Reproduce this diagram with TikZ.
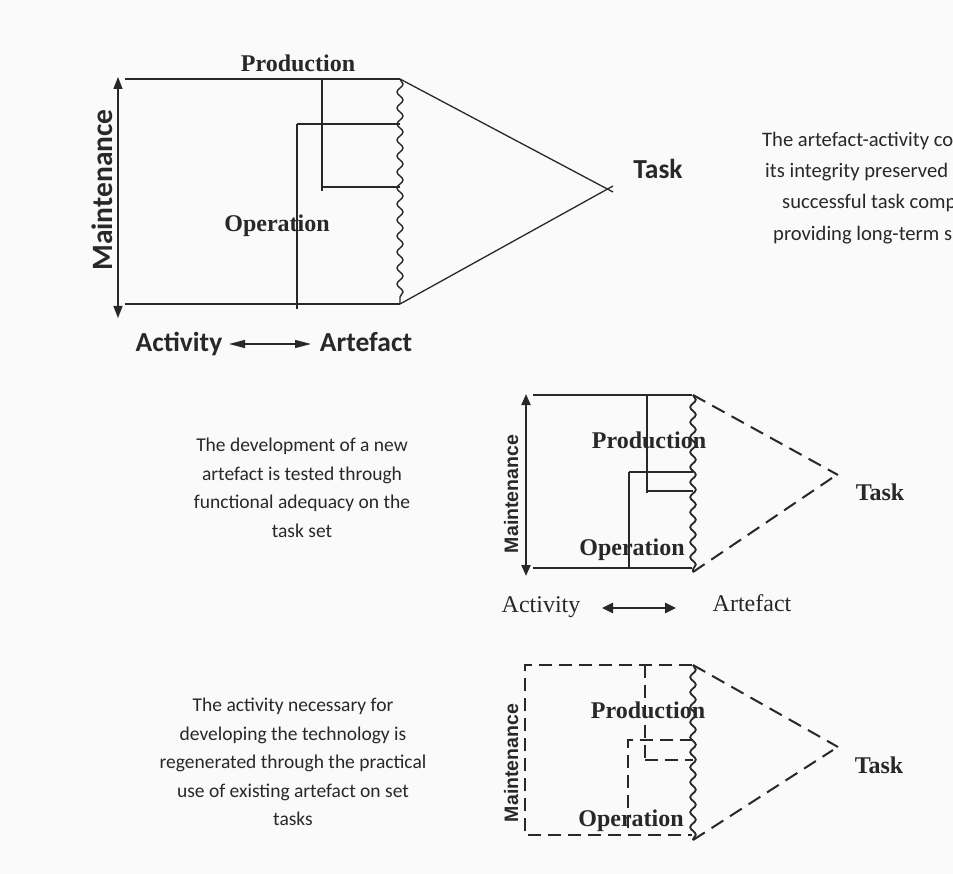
\documentclass[tikz,border=0pt]{standalone}
\usepackage{fontspec}
\setmainfont{Liberation Serif}
\newfontfamily\calib{Carlito}
\newfontfamily\arl{Liberation Sans}
\usetikzlibrary{decorations.pathmorphing,arrows.meta}
\definecolor{ink}{RGB}{40,40,40}
\definecolor{bgc}{RGB}{250,250,250}
\begin{document}
\begin{tikzpicture}[x=1pt,y=-1pt,
  thin1/.style={draw=ink,line width=1.3pt},
  thick1/.style={draw=ink,line width=2pt},
  dash1/.style={draw=ink,line width=2pt,dash pattern=on 13pt off 7pt},
  dash2/.style={draw=ink,line width=2pt,dash pattern=on 14pt off 8pt},
  wavy/.style={draw=ink,line width=1.4pt,decorate,decoration={snake,segment length=16pt,amplitude=3pt}},
  lbl/.style={inner sep=0pt,text=ink},
  serb/.style={lbl,font=\fontsize{24}{28}\selectfont\bfseries},
  serr/.style={lbl,font=\fontsize{24}{28}\selectfont},
  calb/.style={lbl,font=\calib\fontsize{27.5}{32}\selectfont\bfseries},
  para/.style={lbl,align=center,font=\calib\fontsize{19.5}{28.5}\selectfont},
  paraR/.style={lbl,font=\calib\fontsize{20.6}{31}\selectfont},
  mnt/.style={lbl,rotate=90,anchor=base,font=\arl\fontsize{19.5}{22}\selectfont\bfseries}
]
\fill[bgc] (0,0) rectangle (953,874);
\useasboundingbox (0,0) rectangle (953,874);
\begin{scope}
\clip (0,0) rectangle (953,874);

% ================= TOP DIAGRAM =================
\coordinate (A1) at (125,79);  \coordinate (A2) at (400,79);
\coordinate (A3) at (125,304); \coordinate (A4) at (400,304);
\coordinate (AT1) at (613,192); \coordinate (AT2) at (613,186);
\draw[thin1] (A1) -- (A2);
\draw[thin1] (A3) -- (A4);
\draw[wavy] (A2) -- (A4);
\draw[thin1] (A2) -- (AT1);
\draw[thin1] (A4) -- (AT2);
% production bracket
\coordinate (AP1) at (322,79); \coordinate (AP2) at (322,191); \coordinate (AP3) at (400,187);
\draw[thin1] (AP1) -- (AP2);
\draw[thin1] (AP1 |- AP3) -- (AP3);
% operation bracket
\coordinate (AO1) at (297,124); \coordinate (AO2) at (297,309); \coordinate (AO3) at (400,124);
\draw[thin1] (AO1) -- (AO3);
\draw[thin1] (AO1) -- (AO2);
% maintenance arrow
\coordinate (AM1) at (118,77); \coordinate (AM2) at (118,318);
\draw[thin1,{Triangle[length=12pt,width=9pt]}-{Triangle[length=12pt,width=9pt]}] (AM1) -- (AM2);
\node[lbl,rotate=90,anchor=base,font=\calib\fontsize{29.5}{33}\selectfont\bfseries] (amaint) at (112,190) {Maintenance};
\node[serb,anchor=base] (aprod) at (298,72) {Production};
\node[serb,anchor=base] (aoper) at (277,232) {Operation};
\node[calb,anchor=base] (atask) at (658,179) {Task};
\node[calb,anchor=base] (aact) at (179,352) {Activity};
\node[calb,anchor=base] (aart) at (366,352) {Artefact};
\coordinate (AA1) at (229,344); \coordinate (AA2) at (311,344);
\draw[draw=ink,line width=1.4pt,{Triangle[length=16pt,width=8pt]}-{Triangle[length=16pt,width=8pt]}] (AA1) -- (AA2);

% top right text
\node[paraR,anchor=base west] (r1) at (762,147) {The artefact-activity co};
\node[paraR,anchor=base west] (r2) at (765,178) {its integrity preserved};
\node[paraR,anchor=base west] (r3) at (782,209) {successful task comp};
\node[paraR,anchor=base west] (r4) at (773,241) {providing long-term s};

% ================= MIDDLE DIAGRAM =================
\coordinate (B1) at (533,395); \coordinate (B2) at (692,395);
\coordinate (B3) at (533,568); \coordinate (B4) at (692,568);
\coordinate (BW1) at (693,395); \coordinate (BW2) at (693,572);
\coordinate (BT1) at (838,475); \coordinate (BT2) at (832,478);
\draw[thick1] (B1) -- (B2);
\draw[thick1] (B3) -- (B4);
\draw[wavy,line width=1.8pt,decoration={snake,segment length=15pt,amplitude=2.8pt}] (BW1) -- (BW2);
\draw[dash2] (BW1) -- (BT1);
\draw[dash2] (BW2) -- (BT2);
\coordinate (BP1) at (647,395); \coordinate (BP2) at (647,493); \coordinate (BP3) at (693,491);
\draw[thick1] (BP1) -- (BP2);
\draw[thick1] (BP1 |- BP3) -- (BP3);
\coordinate (BO1) at (629,472); \coordinate (BO2) at (629,568); \coordinate (BO3) at (693,472);
\draw[thick1] (BO1) -- (BO3);
\draw[thick1] (BO1) -- (BO2);
\coordinate (BM1) at (526,394); \coordinate (BM2) at (526,576);
\draw[thick1,{Triangle[length=11pt,width=9pt]}-{Triangle[length=11pt,width=9pt]}] (BM1) -- (BM2);
\node[mnt] (bmaint) at (518,494) {Maintenance};
\node[serb,anchor=base] (bprod) at (649,448) {Production};
\node[serb,anchor=base] (boper) at (632,555) {Operation};
\node[serb,anchor=base] (btask) at (880,500) {Task};
\node[serr,anchor=base] (bact) at (541,612) {Activity};
\node[serr,anchor=base] (bart) at (752,611) {Artefact};
\coordinate (BA1) at (602,608); \coordinate (BA2) at (676,608);
\draw[draw=ink,line width=2.5pt,{Triangle[length=11pt,width=10pt]}-{Triangle[length=11pt,width=10pt]}] (BA1) -- (BA2);
\node[para] (btext) at (302,488) {The development of a new\\artefact is tested through\\functional adequacy on the\\task set};

% ================= BOTTOM DIAGRAM =================
\coordinate (C1) at (525,665); \coordinate (C2) at (692,665);
\coordinate (C3) at (525,835); \coordinate (C4) at (692,835);
\coordinate (CW1) at (693,665); \coordinate (CW2) at (693,840);
\coordinate (CT1) at (838,747); \coordinate (CT2) at (833,750);
\draw[dash1] (C2) -- (C1) -- (C3) -- (C4);
\draw[wavy,line width=1.8pt,decoration={snake,segment length=15pt,amplitude=2.8pt}] (CW1) -- (CW2);
\draw[dash2] (CW1) -- (CT1);
\draw[dash2] (CW2) -- (CT2);
\coordinate (CP1) at (645,665); \coordinate (CP2) at (645,762); \coordinate (CP3) at (693,760);
\draw[dash1] (CP1) -- (CP2);
\draw[dash1] (CP1 |- CP3) -- (CP3);
\coordinate (CO1) at (628,740); \coordinate (CO2) at (628,835); \coordinate (CO3) at (693,740);
\draw[dash1] (CO3) -- (CO1) -- (CO2);
\node[mnt] (cmaint) at (518,763) {Maintenance};
\node[serb,anchor=base] (cprod) at (648,718) {Production};
\node[serb,anchor=base] (coper) at (631,826) {Operation};
\node[serb,anchor=base] (ctask) at (879,773) {Task};
\node[para] (ctext) at (293,762) {The activity necessary for\\developing the technology is\\regenerated through the practical\\use of existing artefact on set\\tasks};
\end{scope}
\end{tikzpicture}
\end{document}
